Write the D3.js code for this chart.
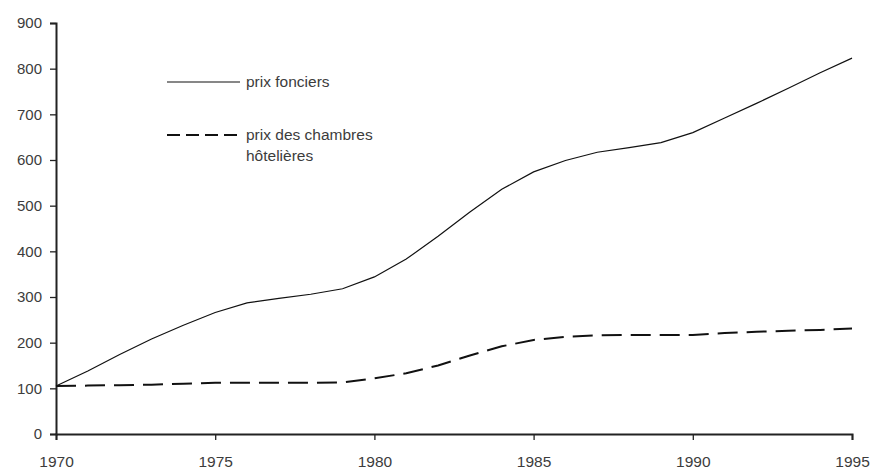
<!DOCTYPE html>
<html>
<head>
<meta charset="utf-8">
<script src="https://cdn.jsdelivr.net/npm/d3@7"></script>
<style>
  html,body{margin:0;padding:0;background:#fff;}
  svg{display:block;font-family:"Liberation Sans",Arial,sans-serif;}
  .tick text{fill:#3c3c3c;}
  .leg{fill:#3c3c3c;font-size:15.5px;}
</style>
</head>
<body>
<svg id="chart"></svg>
<script>
'use strict';
// index 1970 = 100
const years=[1970,1971,1972,1973,1974,1975,1976,1977,1978,1979,1980,1981,1982,
  1983,1984,1985,1986,1987,1988,1989,1990,1991,1992,1993,1994,1995];
const prixFonciers=[105,138,174,208,238,266,287,297,306,318,344,383,433,
  486,536,574,599,617,627,638,660,692,724,757,791,823];
const prixChambres=[105,106,107,108,110,112,112,112,112,113,122,133,150,
  172,192,206,213,216,217,217,217,221,224,226,228,231];
const xTicks=[1970,1975,1980,1985,1990,1995];
const yTicks=[0,100,200,300,400,500,600,700,800,900];
const legendItems=[
  {lines:['prix fonciers'],dash:null},
  {lines:['prix des chambres','hôtelières'],dash:'13,6'}
];

const W=872,H=472;
const m={top:23,right:20,bottom:38,left:56};
const svg=d3.select('#chart').attr('width',W).attr('height',H);
const x=d3.scaleLinear().domain([1970,1995]).range([m.left,W-m.right]);
const y=d3.scaleLinear().domain([0,900]).range([H-m.bottom,m.top]);

// axes
const gy=svg.append('g').attr('transform',`translate(${m.left},0)`)
  .call(d3.axisLeft(y).tickValues(yTicks).tickSize(6).tickPadding(8).tickFormat(d3.format('d')));
gy.selectAll('.tick text').style('font-size','15px');
const gx=svg.append('g').attr('transform',`translate(0,${H-m.bottom})`)
  .call(d3.axisBottom(x).tickValues(xTicks).tickSize(6).tickPadding(16).tickFormat(d3.format('d')));
gx.selectAll('.tick text').style('font-size','15.5px');
svg.selectAll('.domain').attr('stroke','#222').attr('stroke-width',2);
svg.selectAll('.tick line').attr('stroke','#222').attr('stroke-width',1.3);

// lines
const line=d3.line().x(d=>x(d[0])).y(d=>y(d[1]));
svg.append('path').datum(years.map((yr,i)=>[yr,prixFonciers[i]]))
  .attr('d',line).attr('fill','none').attr('stroke','#111').attr('stroke-width',1.2);
svg.append('path').datum(years.map((yr,i)=>[yr,prixChambres[i]]))
  .attr('d',line).attr('fill','none').attr('stroke','#111').attr('stroke-width',2)
  .attr('stroke-dasharray','20,9');

// legend
const lg=svg.append('g').attr('transform','translate(167,82)');
const li=lg.selectAll('g').data(legendItems).join('g').attr('transform',(d,i)=>`translate(0,${i*53})`);
li.append('line').attr('x1',0).attr('x2',73).attr('y1',0).attr('y2',0)
  .attr('stroke','#111').attr('stroke-width',d=>d.dash?2:1.2)
  .attr('stroke-dasharray',d=>d.dash);
li.each(function(d){
  const t=d3.select(this).append('text').attr('class','leg').attr('x',79).attr('y',0);
  t.selectAll('tspan').data(d.lines).join('tspan').attr('x',79).attr('dy',(s,i)=>i?'1.35em':'0.35em').text(s=>s);
});
</script>
</body>
</html>
